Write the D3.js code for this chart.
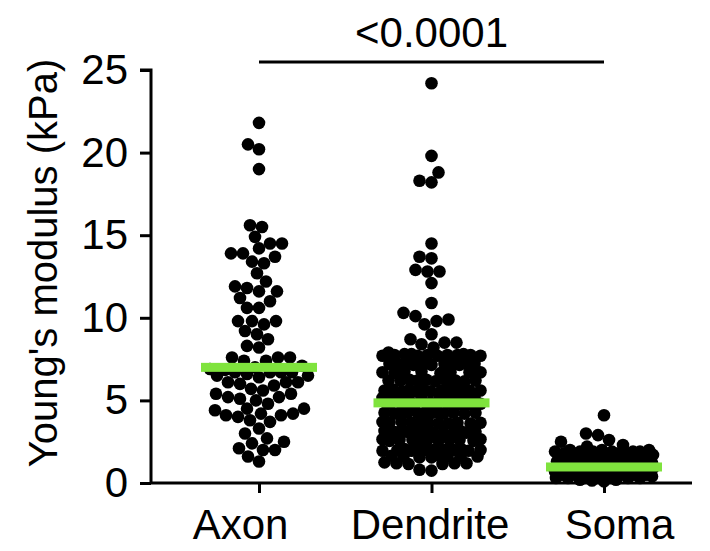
<!DOCTYPE html>
<html>
<head>
<meta charset="utf-8">
<script src="https://cdn.jsdelivr.net/npm/d3@7"></script>
<style>
    body { margin: 0; background: #fff; }
    text { font-family: Arial, "Liberation Sans", sans-serif; fill: #000; }
</style>
</head>
<body>
<svg id="chart" width="710" height="551"></svg>
<script>
// categories and values
const categories = ["Axon", "Dendrite", "Soma"];

const axon = [21.8, 20.5, 20.2, 19.0, 15.6, 15.5, 14.9, 14.5, 14.5, 14.2, 13.9, 13.9, 13.7, 13.4, 13.3,
    12.7, 12.2, 11.9, 11.8, 11.6, 11.6, 11.2, 11.0, 10.6, 10.6, 9.8, 9.8, 9.8, 9.6, 9.2, 9.0, 8.7,
    8.3, 8.2, 7.6, 7.6, 7.6, 7.4, 7.4, 7.1, 7.0, 6.9,
    6.85, 6.7, 6.7, 6.7, 6.7, 6.6, 6.5, 6.5, 6.4, 6.1, 6.1, 6.1, 6.0, 5.9, 5.7, 5.6, 5.4, 5.4,
    5.2, 5.2, 5.1, 5.0, 4.8, 4.5, 4.5, 4.4, 4.2, 4.2, 4.1, 4.1, 4.0, 3.8, 3.7, 3.3, 3.0, 2.7,
    2.5, 2.4, 2.1, 2.0, 2.0, 1.6, 1.3];

const dendrite = [24.2, 19.8, 18.8, 18.3, 18.2, 14.5, 13.7, 13.6, 12.8, 12.9, 12.8, 12.1, 10.9, 10.3,
    10.1, 9.9, 9.8, 9.6, 9.0, 8.7, 8.5, 8.5, 8.4, 8.2, 7.9,
    7.75, 7.8, 7.7, 7.75, 7.8, 7.7, 7.75, 7.7, 7.8, 7.75, 7.7, 7.75,
    7.2, 7.15, 7.25, 7.2, 7.15, 7.2, 7.25, 7.2, 7.15, 7.2, 7.2,
    6.7, 6.65, 6.75, 6.7, 6.7, 6.65, 6.75, 6.7,
    6.2, 6.15, 6.25, 6.2, 6.2, 6.15, 6.25, 6.2, 6.2, 6.15,
    5.6, 5.55, 5.65, 5.6, 5.6, 5.55, 5.65, 5.6, 5.6, 5.55, 5.65, 5.6,
    5.2, 5.15, 5.25, 5.2, 5.2, 5.15, 5.25, 5.2, 5.2, 5.15,
    4.8, 4.75, 4.85, 4.8, 4.8, 4.75, 4.85, 4.8,
    4.25, 4.2, 4.3, 4.25, 4.25, 4.2, 4.3, 4.25, 4.25, 4.2, 4.3, 4.25,
    3.65, 3.6, 3.7, 3.65, 3.65, 3.6, 3.7, 3.65, 3.6, 3.65, 3.7,
    3.1, 3.05, 3.15, 3.1, 3.1, 3.05, 3.15, 3.1, 3.1, 3.05, 3.15, 3.1,
    2.6, 2.55, 2.65, 2.6, 2.6, 2.55, 2.65, 2.6, 2.6, 2.55, 2.65,
    2.0, 1.95, 2.05, 2.0, 2.0, 1.95, 2.05, 2.0, 2.0, 1.95, 2.05, 2.0,
    1.6, 1.55, 1.65, 1.6, 1.6, 1.55, 1.65, 1.6,
    1.2, 1.15, 1.25, 1.2, 1.2, 1.15,
    0.8, 0.75];

const soma = [4.1, 3.0, 2.9, 2.6, 2.5, 2.3, 2.2, 2.0, 2.0,
    1.9, 1.9, 1.8, 1.9, 2.0, 1.8, 1.9, 1.9, 1.8, 1.9,
    1.7, 1.6, 1.7, 1.7, 1.6, 1.7, 1.6, 1.7, 1.7, 1.6,
    1.5, 1.4, 1.5, 1.5, 1.4, 1.5, 1.4, 1.5, 1.5, 1.4, 1.5, 1.4,
    1.3, 1.2, 1.3, 1.3, 1.2, 1.3, 1.2, 1.3, 1.3, 1.2, 1.3, 1.2,
    1.1, 1.0, 1.1, 1.1, 1.0, 1.1, 1.0, 1.1, 1.1, 1.0, 1.1, 1.0, 1.1, 1.0,
    0.9, 0.8, 0.9, 0.9, 0.8, 0.9, 0.8, 0.9, 0.9, 0.8, 0.9, 0.8, 0.9, 0.8,
    0.7, 0.6, 0.7, 0.7, 0.6, 0.7, 0.6, 0.7, 0.7, 0.6, 0.7, 0.6,
    0.5, 0.4, 0.5, 0.5, 0.4, 0.5, 0.4, 0.5, 0.5, 0.4,
    0.3, 0.2, 0.3, 0.3, 0.2, 0.3,
    0.15, 0.1];

const medians = [7.0, 4.85, 0.97];
const yTicks = [0, 5, 10, 15, 20, 25];
const pLabel = "<0.0001";
const pPair = ["Axon", "Soma"];
const yTitle = "Young's modulus (kPa)";

const groups = [axon, dendrite, soma];

const svg = d3.select("#chart");

let yScale = d3.scaleLinear()
    .domain([0, 25])
    .range([483, 70]);

let xScale = d3.scalePoint()
    .domain(categories)
    .range([259, 604]);

const dot = {"r": 6.3, "gap": 12, "cap": 49};
const green = "#7fe33d";

// beeswarm placement with a maximum half width (prism style)
function swarm(values, cx) {
    let placed = [];
    let sorted = values.slice().sort((a, b) => a - b);
    sorted.forEach(v => {
        let y = yScale(v);
        let near = placed.filter(p => Math.abs(p.y - y) < dot.gap);
        let best = null, bestScore = -1, bestFree = null;
        for (let k = 0; k <= dot.cap * 2; k++) {
            // try 0, +1, -1, +2, -2 ...
            let off = (k % 2 === 0 ? 1 : -1) * Math.ceil(k / 2);
            if (Math.abs(off) > dot.cap) continue;
            let md = Infinity;
            near.forEach(p => {
                let dd = Math.hypot(p.x - off, p.y - y);
                if (dd < md) md = dd;
            });
            if (md >= dot.gap) { bestFree = off; break; }
            if (md > bestScore) { bestScore = md; best = off; }
        }
        let x = bestFree !== null ? bestFree : best;
        placed.push({"x": x, "y": y, "v": v});
    });
    return placed.map(p => ({"cx": cx + p.x, "cy": p.y}));
}

// axes
let yAxis = d3.axisLeft(yScale)
    .tickValues(yTicks)
    .tickSize(11)
    .tickPadding(12);

let yG = svg.append("g")
    .attr("transform", "translate(151,0)")
    .call(yAxis);
yG.select(".domain").attr("d", "M-11,70H0V483").attr("stroke-width", 3).attr("stroke", "#000");
yG.selectAll(".tick line").attr("stroke-width", 3).attr("stroke", "#000");
yG.selectAll(".tick text")
    .attr("font-size", 42)
    .attr("font-family", "Arial, 'Liberation Sans', sans-serif")
    .attr("fill", "#000");

let xAxis = d3.axisBottom(xScale)
    .tickSize(10)
    .tickPadding(16);

let xG = svg.append("g")
    .attr("transform", "translate(0,483)")
    .call(xAxis);
xG.select(".domain").attr("d", "M151,0H692").attr("stroke-width", 3).attr("stroke", "#000");
xG.selectAll(".tick line").attr("stroke-width", 3).attr("stroke", "#000");
const labelShift = {"Axon": -19, "Dendrite": -2, "Soma": 15};
xG.selectAll(".tick text")
    .attr("font-size", 42)
    .attr("font-family", "Arial, 'Liberation Sans', sans-serif")
    .attr("fill", "#000")
    .attr("dx", d => labelShift[d]);

// y title
svg.append("text")
    .attr("transform", "translate(57,263) rotate(-90)")
    .attr("text-anchor", "middle")
    .attr("font-size", 40)
    .text(yTitle);

// dots
categories.forEach((c, i) => {
    let pts = swarm(groups[i], xScale(c));
    svg.append("g")
        .selectAll("circle")
        .data(pts)
        .enter().append("circle")
        .attr("cx", d => d.cx)
        .attr("cy", d => d.cy)
        .attr("r", dot.r)
        .attr("fill", "#000");
});

// median bars
svg.append("g")
    .selectAll("rect")
    .data(medians)
    .enter().append("rect")
    .attr("x", (d, i) => xScale(categories[i]) - 58)
    .attr("y", d => yScale(d) - 4.5)
    .attr("width", 116)
    .attr("height", 9)
    .attr("fill", green);

// significance bar
svg.append("line")
    .attr("x1", xScale(pPair[0]))
    .attr("x2", xScale(pPair[1]))
    .attr("y1", 62)
    .attr("y2", 62)
    .attr("stroke", "#000")
    .attr("stroke-width", 3);

svg.append("text")
    .attr("x", (xScale(pPair[0]) + xScale(pPair[1])) / 2)
    .attr("y", 47)
    .attr("text-anchor", "middle")
    .attr("font-size", 42)
    .text(pLabel);
</script>
</body>
</html>
